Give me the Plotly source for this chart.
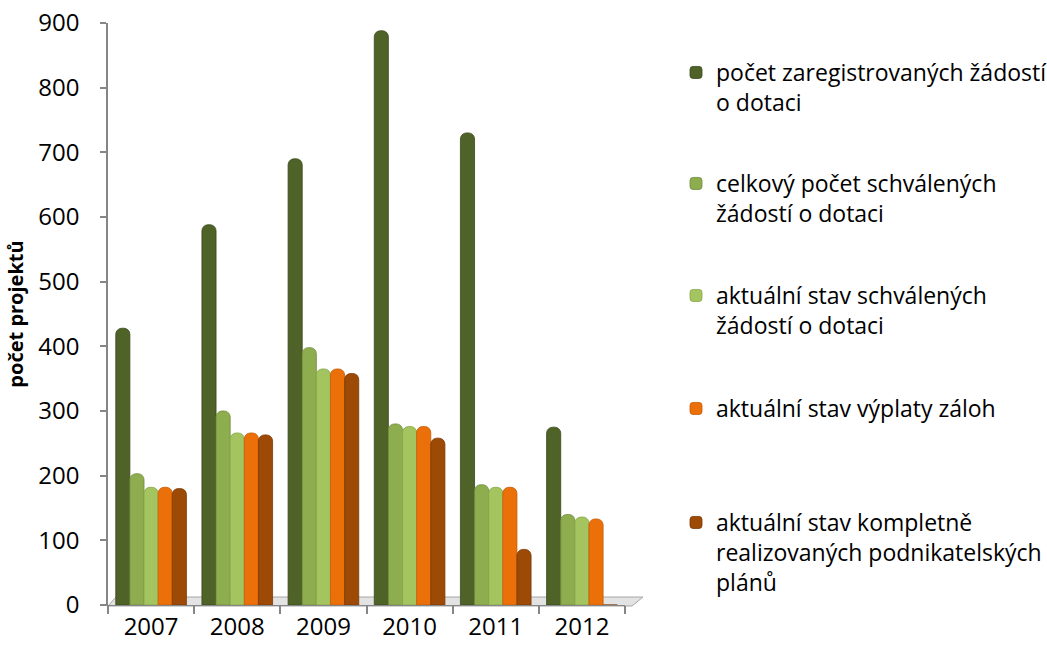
import plotly.graph_objects as go

years = ["2007", "2008", "2009", "2010", "2011", "2012"]
registered = [428, 588, 690, 888, 730, 275]
approved_total = [203, 300, 398, 280, 186, 140]
approved_current = [182, 266, 365, 276, 182, 136]
advances = [182, 266, 365, 276, 182, 133]
completed = [180, 263, 358, 258, 86, 0]

series_names = [
    "počet zaregistrovaných žádostí<br>o dotaci",
    "celkový počet schválených<br>žádostí o dotaci",
    "aktuální stav schválených<br>žádostí o dotaci",
    "aktuální stav výplaty záloh",
    "aktuální stav kompletně<br>realizovaných podnikatelských<br>plánů",
]
series_values = [registered, approved_total, approved_current, advances, completed]
colors = ["#4F6228", "#8DAD4F", "#A3C45E", "#EC7009", "#9C4A06"]
line_colors = ["#3A4A1C", "#6F8C3A", "#86A648", "#C75C05", "#7A3904"]

W, H = 1047, 650
ML, MR, MT, MB = 108, W - 625, 23, 45
plot_w = W - ML - MR
plot_h = H - MT - MB


def px_to_paper(xp, yp):
    return (xp - ML) / plot_w, (H - MB - yp) / plot_h


fig = go.Figure()
legend_tops = [51, 162, 274, 387, 501]
legend_keys = ["legend", "legend2", "legend3", "legend4", "legend5"]
for name, vals, c, lc, lk in zip(series_names, series_values, colors, line_colors, legend_keys):
    fig.add_trace(go.Bar(
        x=years, y=vals, name=name,
        marker=dict(color=c, line=dict(color=lc, width=0.8)),
        legend=lk,
    ))

legend_font = dict(family="Open Sans", size=23, color="#000000")
legend_layout = {}
for lk, top in zip(legend_keys, legend_tops):
    lx, ly = px_to_paper(676, top)
    legend_layout[lk] = dict(
        x=lx, y=ly, xanchor="left", yanchor="top",
        font=legend_font, bgcolor="rgba(0,0,0,0)", valign="top",
    )

# 3D-like floor
fx0, fy0 = px_to_paper(108, 606)
fx1, fy1 = px_to_paper(632, 606)
fx2, fy2 = px_to_paper(643, 597)
fx3, fy3 = px_to_paper(116, 597)
floor_path = f"M {fx0} {fy0} L {fx1} {fy1} L {fx2} {fy2} L {fx3} {fy3} Z"

fig.update_layout(
    width=W, height=H,
    margin=dict(l=ML, r=MR, t=MT, b=MB, autoexpand=False),
    paper_bgcolor="white", plot_bgcolor="white",
    barmode="group", bargap=0.18, bargroupgap=0.0,
    barcornerradius=6,
    font=dict(family="Open Sans", color="#000000"),
    showlegend=True,
    shapes=[dict(type="path", xref="paper", yref="paper", path=floor_path,
                 fillcolor="#E3E3E3", line=dict(color="#A6A6A6", width=1), layer="below")],
    **legend_layout,
)
fig.update_yaxes(
    range=[0, 900], dtick=100, showgrid=False, zeroline=False,
    showline=True, linecolor="#868686", linewidth=1.5,
    ticks="outside", ticklen=6, tickcolor="#868686", tickwidth=1.5,
    tickfont=dict(family="Open Sans", size=24, color="#000000"),
    ticklabelstandoff=16,
    title=dict(text="<b>počet projektů</b>", font=dict(family="Open Sans", size=20, color="#000000"), standoff=9),
)
fig.update_xaxes(
    showgrid=False, zeroline=False, showline=True, linecolor="#868686", linewidth=1,
    ticks="outside", tickson="boundaries", ticklen=8, tickcolor="#868686", tickwidth=1.5,
    tickfont=dict(family="Open Sans", size=24, color="#000000"),
)

fig.write_html("out.html", config={"displayModeBar": False},
               post_script="document.body.style.margin='0';")
